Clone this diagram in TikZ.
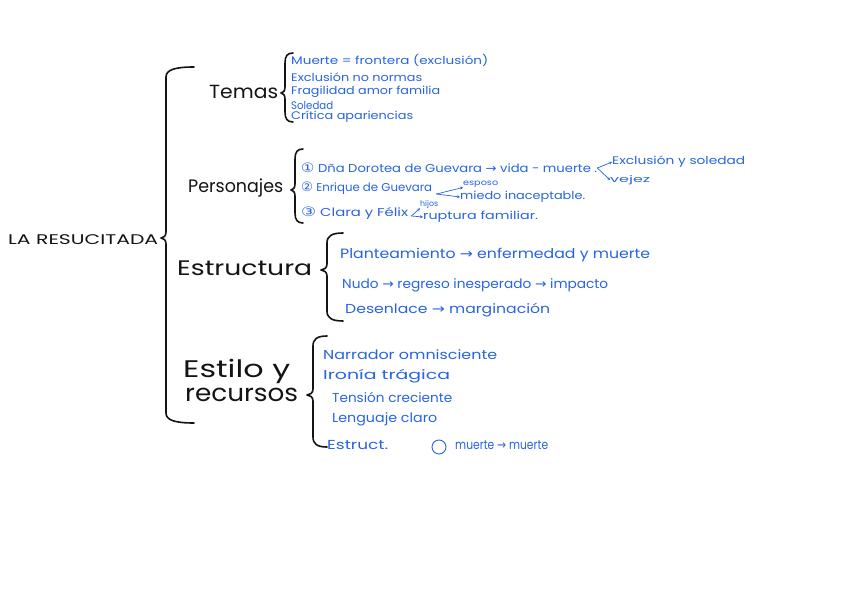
\documentclass[tikz,border=0pt]{standalone}
\usepackage{fontspec}
\setmainfont{Poppins}
\newfontfamily\symf{DejaVu Sans}
\usetikzlibrary{calc,arrows.meta}
\definecolor{ink}{RGB}{20,20,20}
\definecolor{pen}{RGB}{40,100,225}
\newsavebox\fwbox
\newcommand{\fw}[3]{\sbox\fwbox{\fontsize{#2}{#2}\selectfont #3}\pgfmathsetmacro\fwf{#1/(\the\wd\fwbox)}\scalebox{\fwf}[1]{\usebox\fwbox}}
\newcommand{\ar}{{\symf →}}
\newcommand{\num}[1]{{\symf\fontsize{13}{13}\selectfont #1}}
\newcommand{\curlyb}[6]{%
  \draw[bracepen] (#1+#5,#2) .. controls (#1+#5*0.3,#2) and (#1,#2+3) .. (#1,#2+10)
    -- (#1,#3-6) .. controls (#1,#3-2) and (#1-#6*0.5,#3) .. (#1-#6,#3)
    .. controls (#1-#6*0.5,#3) and (#1,#3+2) .. (#1,#3+6)
    -- (#1,#4-10) .. controls (#1,#4-3) and (#1+#5*0.3,#4) .. (#1+#5,#4);}
\begin{document}
\begin{tikzpicture}[x=1pt,y=-1pt,line cap=round,line join=round,
  bracepen/.style={draw=ink,line width=1.6pt},
  lbl/.style={anchor=west,inner sep=0pt,text=ink},
  itm/.style={anchor=west,inner sep=0pt,text=pen},
  arr/.style={draw=pen,line width=0.7pt,-{Stealth[length=3pt,width=3pt]}}]
\fill[white] (0,0) rectangle (848,601);
\useasboundingbox (0,0) rectangle (848,601);

% braces
\curlyb{166}{67}{238}{423}{28}{5}
\curlyb{285}{53}{93}{122}{8}{4}
\curlyb{295}{149}{190}{223}{8}{4}
\curlyb{327}{233}{270}{321}{16}{6}
\curlyb{313}{336}{395}{447}{14}{6}

% main labels
\node[lbl] (title) at (8,240) {\fw{150}{14}{LA RESUCITADA}};
\node[lbl] (temas) at (209,92) {\fw{69}{19}{Temas}};
\node[lbl] (pers) at (188,188) {\fw{95}{18}{Personajes}};
\node[lbl] (estr) at (177,268) {\fw{135}{21}{Estructura}};
\node[lbl] (estilo) at (183,371) {\fw{107}{24}{Estilo y}};
\node[lbl] (recursos) at (185,395) {\fw{113}{24}{recursos}};

% Temas
\node[itm] (t1) at (291,60) {\fw{197}{11}{Muerte = frontera (exclusión)}};
\node[itm] (t2) at (291,77) {\fw{131}{11}{Exclusión no normas}};
\node[itm] (t3) at (291,92) {\fw{149}{11}{Fragilidad amor familia}};
\node[itm] (t4) at (291,105) {\fw{42}{11}{Soledad}};
\node[itm] (t5) at (291,117) {\fw{122}{11}{Crítica apariencias}};

% Personajes
\node[itm] (p1) at (301,168) {\fw{296}{11.5}{\num{①} Dña Dorotea de Guevara \ar{} vida - muerte .}};
\node[itm] (excl) at (612,162) {\fw{133}{11}{Exclusión y soledad}};
\node[itm] (vejez) at (610,180) {\fw{40}{9}{vejez}};
\node[itm] (p2) at (301,188) {\fw{131}{11.5}{\num{②} Enrique de Guevara}};
\node[itm] (esposo) at (463,184) {\fw{35}{8}{esposo}};
\node[itm] (miedo) at (460,197) {\fw{125}{11}{miedo inaceptable.}};
\node[itm] (p3) at (301,213) {\fw{107}{11.5}{\num{③} Clara y Félix}};
\node[itm] (hijos) at (420,204) {\fw{18}{8}{hijos}};
\node[itm] (ruptura) at (423,217) {\fw{115}{11}{ruptura familiar.}};
\draw[arr] (p1.east) -- (excl.west);
\draw[arr] (p1.east) -- (vejez.west);
\coordinate (f2) at ($(p2.east)+(4,6)$);
\draw[arr] (f2) -- (miedo.west);
\draw[arr] (f2) -- (esposo.south west);
\coordinate (f3) at ($(p3.east)+(3,3)$);
\draw[arr] (f3) -- (ruptura.west);
\draw[arr] (f3) -- (hijos.south west);

% Estructura
\node[itm] (e1) at (340,255) {\fw{310}{13.5}{Planteamiento \ar{} enfermedad y muerte}};
\node[itm] (e2) at (342,285) {\fw{266}{13}{Nudo \ar{} regreso inesperado \ar{} impacto}};
\node[itm] (e3) at (345,310) {\fw{205}{13}{Desenlace \ar{} marginación}};

% Estilo y recursos
\node[itm] (s1) at (323,355) {\fw{174}{13}{Narrador omnisciente}};
\node[itm] (s2) at (323,376) {\fw{127}{13}{Ironía trágica}};
\node[itm] (s3) at (332,397) {\fw{120}{13}{Tensión creciente}};
\node[itm] (s4) at (332,419) {\fw{105}{13}{Lenguaje claro}};
\node[itm] (s5) at (327,445) {\fw{61}{13}{Estruct.}};
\node[itm] (s6) at (455,445) {\fw{93}{13}{muerte \ar{} muerte}};
\node[draw=pen,line width=0.9pt,circle,minimum size=14pt,inner sep=0pt] (circ) at (439,447) {};
\end{tikzpicture}
\end{document}
